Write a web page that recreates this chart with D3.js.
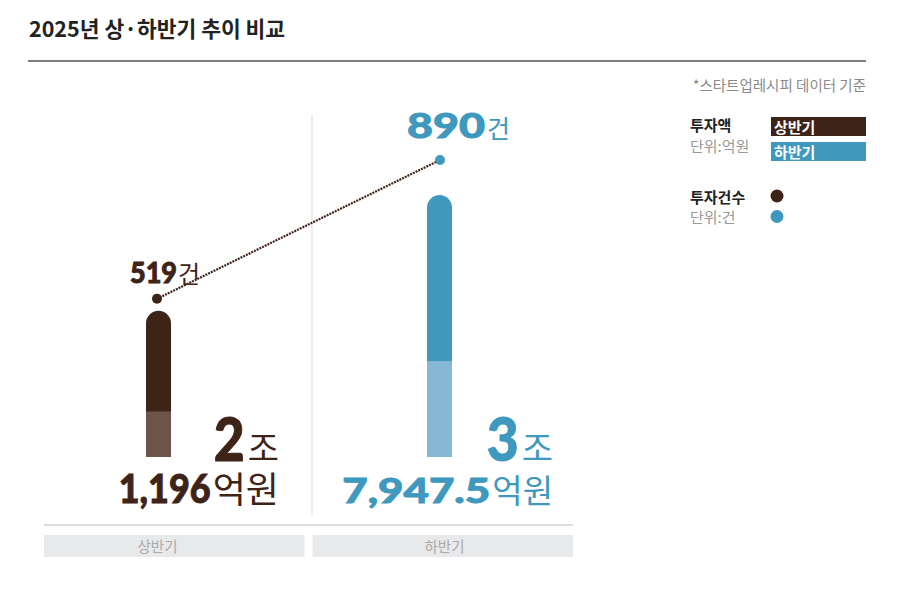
<!DOCTYPE html>
<html>
<head>
<meta charset="utf-8">
<script src="https://cdn.jsdelivr.net/npm/d3@7"></script>
<style>
  body { margin: 0; background: #fff; }
  text { font-family: "Noto Sans CJK KR", "Noto Sans", sans-serif; }
  .num { font-family: "Lato", "Roboto", sans-serif; font-weight: 900; }
</style>
</head>
<body>
<script>
// data
var halves = ["상반기", "하반기"];
var amountTotal = [21196, 37947.5];      // 억원
var amountLower = [6600, 13900];         // lighter lower part of each bar (estimated)
var dealCounts = [519, 890];             // 건
var joLabels = ["2", "3"];
var eokLabels = ["1,196", "7,947.5"];
var darkColors = ["#3e2317", "#3f98bd"];
var lightColors = ["#6e554a", "#86b7d3"];

var W = 900, H = 592;

var svg = d3.select("body").append("svg")
    .attr("width", W)
    .attr("height", H);

// title + rule
svg.append("text")
    .attr("x", 29).attr("y", 37)
    .attr("font-size", 21.5).attr("font-weight", 700)
    .attr("fill", "#222")
    .text("2025년 상·하반기 추이 비교");

svg.append("line")
    .attr("x1", 28).attr("x2", 866)
    .attr("y1", 61).attr("y2", 61)
    .style("stroke", "#555").style("stroke-width", 1.5);

svg.append("text")
    .attr("x", 866).attr("y", 91)
    .attr("text-anchor", "end")
    .attr("font-size", 14.5).attr("fill", "#8a8a8a")
    .text("*스타트업레시피 데이터 기준");

// scales
var xBand = d3.scaleBand().domain(halves).range([44, 573]).paddingInner(0.03);
var xBar = d3.scalePoint().domain(halves).range([158.5, 439.5]);
var yAmt = d3.scaleLinear().domain([0, 38400]).range([457, 192]);
var yCnt = d3.scaleLinear().domain([0, 890]).range([493, 160]);
var barW = 25;

// number + unit label; the number is stretched horizontally to width numW
function numLabel(opt) {
  var unit = svg.append("text")
      .attr("y", opt.y)
      .attr("font-size", opt.unitSize)
      .attr("fill", opt.color)
      .text(opt.unit);
  var uw = unit.node().getComputedTextLength();
  var x0 = opt.xl !== undefined ? opt.xl : opt.xr - uw - opt.gap - opt.numW;
  var num = svg.append("text")
      .attr("class", "num")
      .attr("x", 0).attr("y", 0)
      .attr("font-size", opt.numSize)
      .attr("fill", opt.color)
      .style("stroke", opt.color)
      .style("stroke-width", 0.9)
      .text(opt.num);
  var nw = num.node().getComputedTextLength();
  num.attr("transform", "translate(" + x0 + "," + opt.y + ") scale(" + (opt.numW / nw) + ",1)");
  unit.attr("x", x0 + opt.numW + opt.gap);
}

// divider between halves
svg.append("line")
    .attr("x1", 312).attr("x2", 312)
    .attr("y1", 115).attr("y2", 515)
    .style("stroke", "#ddd").style("stroke-width", 1);

// baseline
svg.append("line")
    .attr("x1", xBand.range()[0]).attr("x2", xBand.range()[1])
    .attr("y1", 525).attr("y2", 525)
    .style("stroke", "#d0d0d0").style("stroke-width", 1.5);

// category bands
svg.selectAll(".band").data(halves).enter().append("rect")
    .attr("x", function(d) { return xBand(d); })
    .attr("y", 535)
    .attr("width", xBand.bandwidth())
    .attr("height", 22)
    .attr("fill", "#e8e9ea");

svg.selectAll(".bandLabel").data(halves).enter().append("text")
    .attr("x", function(d, i) { return xBar(d) + (i === 0 ? -1 : 5); })
    .attr("y", 552)
    .attr("text-anchor", "middle")
    .attr("font-size", 14.5).attr("fill", "#aaa")
    .text(function(d) { return d; });

// bars: rounded top, with flat lighter lower part
var joW = [31, 32], eokW = [92, 148], labelRight = [279, 553];
halves.forEach(function(h, i) {
  var x0 = xBar(h) - barW / 2;
  var top = yAmt(amountTotal[i]);
  var base = yAmt(0);
  var r = barW / 2;
  var path = "M" + x0 + "," + base +
      "V" + (top + r) +
      "A" + r + "," + r + " 0 0 1 " + (x0 + barW) + "," + (top + r) +
      "V" + base + "Z";
  svg.append("path").attr("d", path).attr("fill", darkColors[i]);
  svg.append("rect")
      .attr("x", x0)
      .attr("y", yAmt(amountLower[i]))
      .attr("width", barW)
      .attr("height", base - yAmt(amountLower[i]))
      .attr("fill", lightColors[i]);

  numLabel({ xr: labelRight[i], y: 461, num: joLabels[i], numSize: 60, numW: joW[i],
             unit: "조", unitSize: 34, gap: 3, color: darkColors[i] });
  numLabel({ xr: labelRight[i], y: 503, num: eokLabels[i], numSize: i === 0 ? 39 : 34, numW: eokW[i],
             unit: "억원", unitSize: i === 0 ? 36 : 33, gap: 2, color: darkColors[i] });
});

// count line
var line = d3.line()
    .x(function(d, i) { return xBar(halves[i]) + (i === 0 ? -1.5 : 0.5); })
    .y(function(d) { return yCnt(d); });

svg.append("path")
    .datum(dealCounts)
    .attr("d", line)
    .attr("fill", "none")
    .style("stroke", "#3e2317")
    .style("stroke-width", 2.2)
    .style("stroke-dasharray", "2,1");

svg.selectAll(".dot").data(dealCounts).enter().append("circle")
    .attr("cx", function(d, i) { return xBar(halves[i]) + (i === 0 ? -1.5 : 0.5); })
    .attr("cy", function(d) { return yCnt(d); })
    .attr("r", 5)
    .attr("fill", function(d, i) { return darkColors[i]; });

// count labels
numLabel({ xl: 130, y: 283, num: String(dealCounts[0]), numSize: 28, numW: 47,
           unit: "건", unitSize: 24, gap: 1, color: darkColors[0] });
numLabel({ xl: 407, y: 138, num: String(dealCounts[1]), numSize: 35, numW: 78,
           unit: "건", unitSize: 25, gap: 2, color: darkColors[1] });

// legend
var lgX = 690;
svg.append("text").attr("x", lgX).attr("y", 131).attr("font-size", 15).attr("font-weight", 700).attr("fill", "#222").text("투자액");
svg.append("text").attr("x", lgX).attr("y", 152).attr("font-size", 15).attr("fill", "#999").text("단위:억원");
svg.append("text").attr("x", lgX).attr("y", 203).attr("font-size", 15).attr("font-weight", 700).attr("fill", "#222").text("투자건수");
svg.append("text").attr("x", lgX).attr("y", 223).attr("font-size", 15).attr("fill", "#999").text("단위:건");

halves.forEach(function(h, i) {
  svg.append("rect")
      .attr("x", 771).attr("y", 117 + i * 25)
      .attr("width", 95).attr("height", 19)
      .attr("fill", darkColors[i]);
  svg.append("text")
      .attr("x", 774).attr("y", 132.5 + i * 25)
      .attr("font-size", 15).attr("font-weight", 700).attr("fill", "#fff")
      .text(h);
  svg.append("circle")
      .attr("cx", 777).attr("cy", 196 + i * 20.5)
      .attr("r", 6.5)
      .attr("fill", darkColors[i]);
});
</script>
</body>
</html>
